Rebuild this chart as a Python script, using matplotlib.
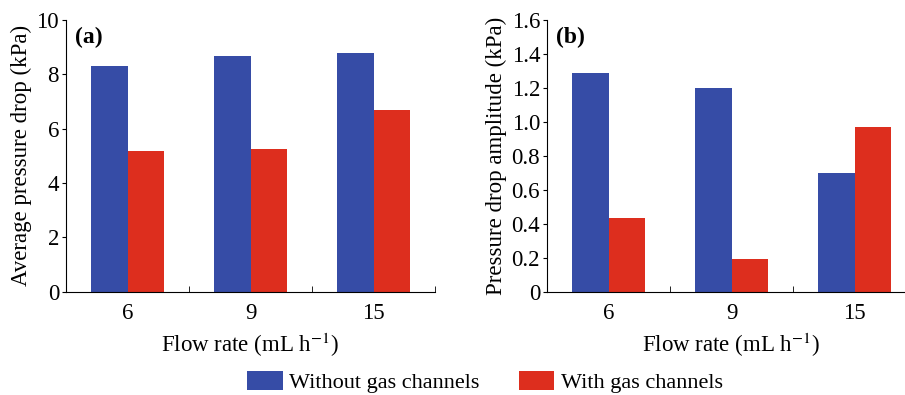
import numpy as np
import matplotlib
matplotlib.use('Agg')
import matplotlib.pyplot as plt

plt.rcParams['font.family'] = ['Liberation Serif', 'DejaVu Serif']
plt.rcParams['mathtext.fontset'] = 'stix'

# data
flow_rates = ['6', '9', '15']
avg_drop_without = [8.31, 8.67, 8.78]
avg_drop_with = [5.18, 5.25, 6.69]
amp_without = [1.29, 1.20, 0.70]
amp_with = [0.434, 0.193, 0.97]
series_names = ['Without gas channels', 'With gas channels']

BLUE = '#364ca6'
RED = '#dd2e1e'
FS = 16.5

fig = plt.figure(figsize=(9.05, 3.95), dpi=100)
W, H = 905, 395

def px_axes(l, t, r, b):
    return fig.add_axes([l / W, 1 - b / H, (r - l) / W, (b - t) / H])

ax_a = px_axes(66, 20, 435, 291.5)
ax_b = px_axes(547, 20, 916, 291.5)

x = np.arange(len(flow_rates))
w = 0.30

def draw(ax, blue, red, ylim, yticks, yticklabels, ylabel, tag):
    ax.bar(x - w / 2, blue, w, color=BLUE, label=series_names[0])
    ax.bar(x + w / 2, red, w, color=RED, label=series_names[1])
    ax.set_xlim(-0.5, 2.5)
    ax.set_ylim(*ylim)
    ax.spines['top'].set_visible(False)
    ax.spines['right'].set_visible(False)
    ax.set_xticks(x)
    ax.set_xticklabels(flow_rates, fontsize=FS)
    ax.set_xticks([0.5, 1.5, 2.5], minor=True)
    ax.tick_params(axis='x', which='major', length=0, pad=8)
    ax.tick_params(axis='x', which='minor', direction='in', length=4)
    ax.set_yticks(yticks)
    ax.set_yticklabels(yticklabels, fontsize=FS)
    ax.tick_params(axis='y', direction='out', length=3, pad=2)
    ax.set_xlabel('Flow rate (mL h$^{\\mathrm{-1}}$)', fontsize=FS, labelpad=5)
    ax.set_ylabel(ylabel, fontsize=FS, labelpad=3)
    ax.text(0.025, 0.975, tag, transform=ax.transAxes, fontsize=FS + 0.5,
            fontweight='bold', va='top', ha='left')

draw(ax_a, avg_drop_without, avg_drop_with, (0, 10), [0, 2, 4, 6, 8, 10],
     ['0', '2', '4', '6', '8', '10'], 'Average pressure drop (kPa)', '(a)')
draw(ax_b, amp_without, amp_with, (0, 1.6), np.arange(0, 1.61, 0.2),
     ['0', '0.2', '0.4', '0.6', '0.8', '1.0', '1.2', '1.4', '1.6'],
     'Pressure drop amplitude (kPa)', '(b)')

handles, labels = ax_a.get_legend_handles_labels()
fig.legend(handles, labels, loc='center', bbox_to_anchor=(0.536, 0.032),
           ncol=2, frameon=False, fontsize=16, handlelength=1.6,
           handleheight=0.9, columnspacing=1.75, handletextpad=0.3,
           borderpad=0.1)

fig.savefig('out.png', dpi=100)
